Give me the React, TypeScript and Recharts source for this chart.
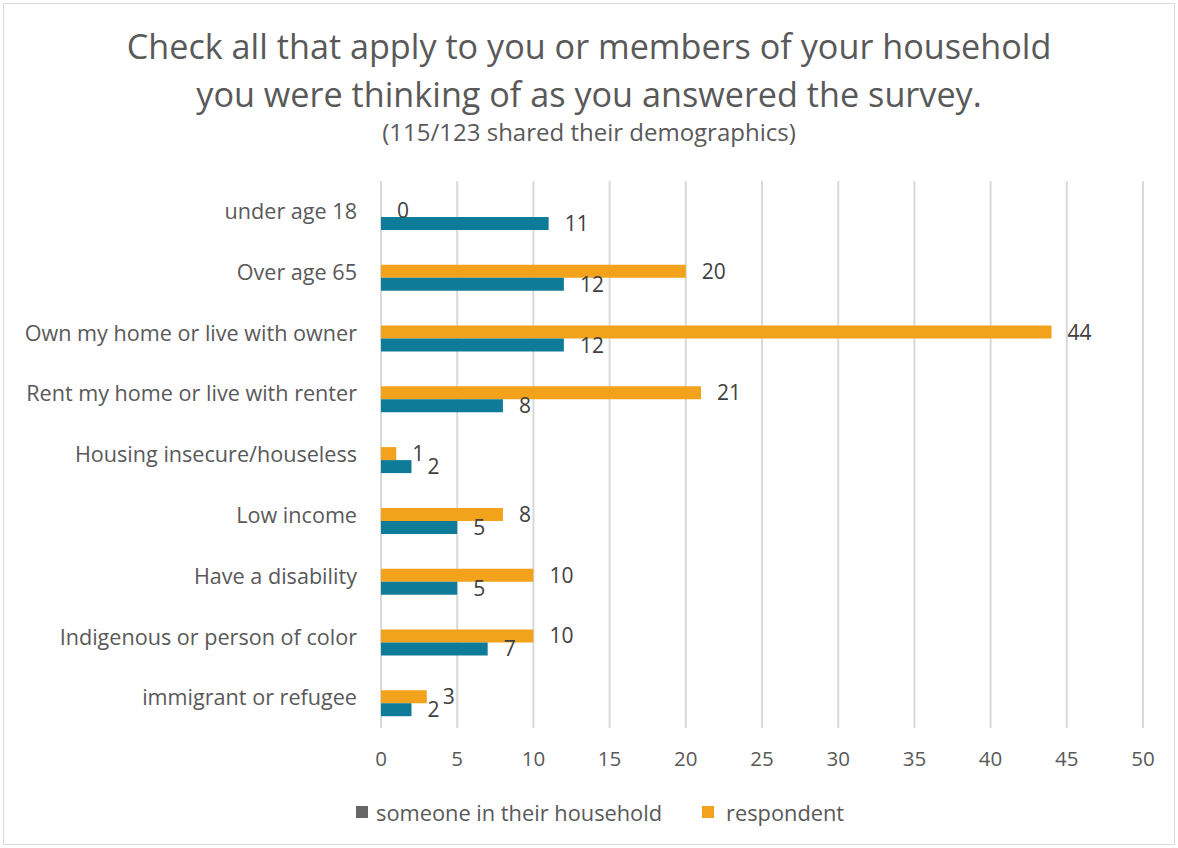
import React from 'react';
import { BarChart, Bar, XAxis, YAxis, CartesianGrid, LabelList } from 'recharts';

const categories = [
  'under age 18',
  'Over age 65',
  'Own my home or live with owner',
  'Rent my home or live with renter',
  'Housing insecure/houseless',
  'Low income',
  'Have a disability',
  'Indigenous or person of color',
  'immigrant or refugee',
];
const respondent = [0, 20, 44, 21, 1, 8, 10, 10, 3];
const household = [11, 12, 12, 8, 2, 5, 5, 7, 2];
const xTicks = [0, 5, 10, 15, 20, 25, 30, 35, 40, 45, 50];

const data = categories.map((name, i) => ({ name, respondent: respondent[i], household: household[i] }));

const FONT = '"Open Sans", sans-serif';
const ORANGE = '#F3A21C';
const TEAL = '#0E7C98';
const GREY_TEXT = '#595959';

const CategoryTick = (props: any) => {
  const { x, y, payload } = props;
  return (
    <text x={x} y={y - 6} dy="0.355em" textAnchor="end" fill={GREY_TEXT} fontSize={21.6} fontFamily={FONT}>
      {payload.value}
    </text>
  );
};

const ValueLabel = (props: any) => {
  const { x, y, width, height, value } = props;
  return (
    <text x={x + width + 16} y={y + height / 2} dy="0.355em" fill="#404040" fontSize={21} fontFamily={FONT}>
      {value}
    </text>
  );
};

export default function App() {
  return (
    <div style={{ position: 'relative', width: 1178, height: 848, fontFamily: FONT, background: '#fff' }}>
      <style>{'body{margin:0}'}</style>
      <div style={{ position: 'absolute', left: 3, top: 3, width: 1172, height: 842, border: '1px solid #d9d9d9', boxSizing: 'border-box' }} />
      <div style={{ position: 'absolute', top: 22, left: 0, width: 1178, textAlign: 'center', color: GREY_TEXT, fontSize: 34.2, lineHeight: '48px' }}>
        Check all that apply to you or members of your household
        <br />
        you were thinking of as you answered the survey.
      </div>
      <div style={{ position: 'absolute', top: 117, left: 0, width: 1178, textAlign: 'center', color: GREY_TEXT, fontSize: 24, lineHeight: '30px' }}>
        (115/123 shared their demographics)
      </div>
      <BarChart
        width={1178}
        height={848}
        data={data}
        layout="vertical"
        margin={{ top: 187, right: 35, bottom: 84, left: 0 }}
        barGap={0}
        style={{ position: 'absolute', left: 0, top: 0 }}
      >
        <CartesianGrid horizontal={false} vertical stroke="#d9d9d9" strokeWidth={2} y={181} height={547} />
        <XAxis
          type="number"
          domain={[0, 50]}
          ticks={xTicks}
          axisLine={false}
          tickLine={false}
          tickMargin={11}
          height={30}
          tick={{ fill: GREY_TEXT, fontSize: 20.5, fontFamily: FONT }}
        />
        <YAxis
          type="category"
          dataKey="name"
          width={381}
          axisLine={false}
          tickLine={false}
          tickMargin={18}
          tick={<CategoryTick />}
          interval={0}
        />
        <Bar dataKey="respondent" fill={ORANGE} barSize={13} minPointSize={0.01} isAnimationActive={false}>
          <LabelList dataKey="respondent" content={<ValueLabel />} />
        </Bar>
        <Bar dataKey="household" fill={TEAL} barSize={13} isAnimationActive={false}>
          <LabelList dataKey="household" content={<ValueLabel />} />
        </Bar>
      </BarChart>
      <div style={{ position: 'absolute', top: 797, left: 356, height: 30, display: 'flex', alignItems: 'center', color: GREY_TEXT, fontSize: 21.8 }}>
        <span style={{ width: 12, height: 12, background: '#666666', display: 'inline-block', marginRight: 8 }} />
        <span>someone in their household</span>
        <span style={{ width: 12, height: 12, background: ORANGE, display: 'inline-block', marginLeft: 40, marginRight: 12 }} />
        <span>respondent</span>
      </div>
    </div>
  );
}
